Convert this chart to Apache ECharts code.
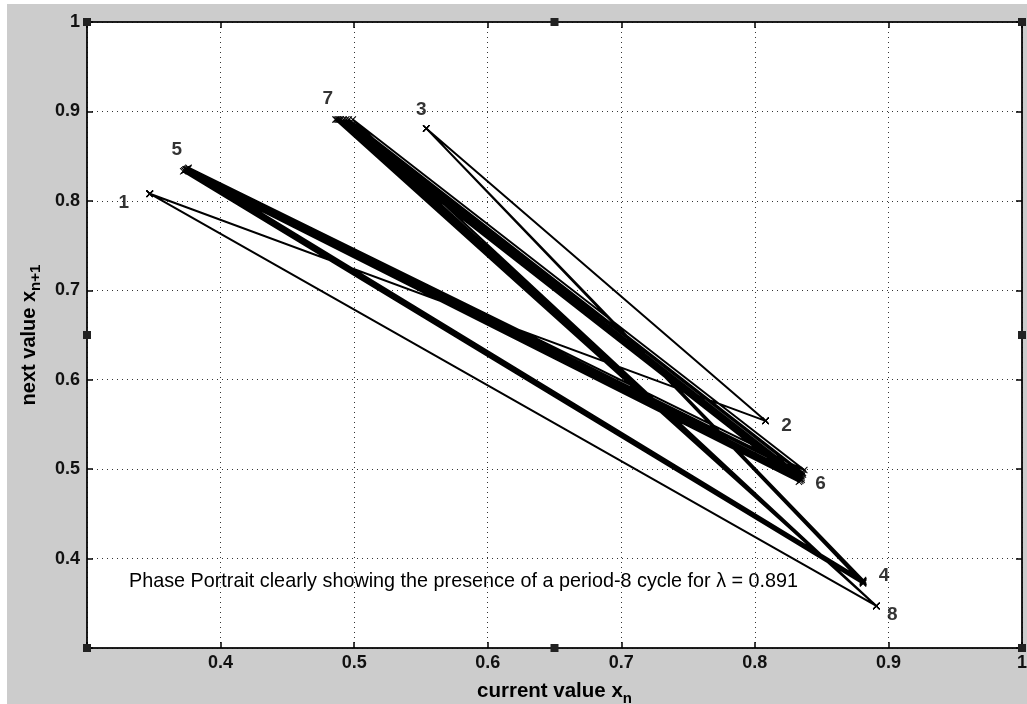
<!DOCTYPE html>
<html>
<head>
<meta charset="utf-8">
<script src="https://cdn.jsdelivr.net/npm/echarts@6/dist/echarts.min.js"></script>
<style>
html,body{margin:0;padding:0;background:#fff;}
#chart{width:1027px;height:704px;}
</style>
</head>
<body>
<div id="chart"></div>
<script>
// Trajectory points (x_n, x_{n+1}) in the order they are joined
const currentValue = [
  0.376, 0.837, 0.499, 0.891, 0.347, 0.808, 0.554, 0.881,
  0.372, 0.833, 0.486, 0.891, 0.347, 0.808, 0.554, 0.881,
  0.376, 0.836, 0.496, 0.891, 0.347, 0.808, 0.554, 0.881,
  0.373, 0.834, 0.487, 0.891, 0.347, 0.808, 0.554, 0.881,
  0.375, 0.836, 0.494, 0.891, 0.347, 0.808, 0.554, 0.881,
  0.373, 0.834, 0.489, 0.891, 0.347, 0.808, 0.554, 0.881,
  0.375, 0.835, 0.492, 0.891, 0.347, 0.808, 0.554, 0.881,
  0.374, 0.835, 0.488, 0.891, 0.347, 0.808, 0.554, 0.881,
  0.374, 0.835, 0.490, 0.891, 0.347, 0.808, 0.554, 0.881,
  0.374
];
const nextValue = [
  0.837, 0.499, 0.891, 0.347, 0.808, 0.554, 0.881, 0.372,
  0.833, 0.486, 0.891, 0.347, 0.808, 0.554, 0.881, 0.376,
  0.836, 0.496, 0.891, 0.347, 0.808, 0.554, 0.881, 0.373,
  0.834, 0.487, 0.891, 0.347, 0.808, 0.554, 0.881, 0.375,
  0.836, 0.494, 0.891, 0.347, 0.808, 0.554, 0.881, 0.373,
  0.834, 0.489, 0.891, 0.347, 0.808, 0.554, 0.881, 0.375,
  0.835, 0.492, 0.891, 0.347, 0.808, 0.554, 0.881, 0.374,
  0.835, 0.488, 0.891, 0.347, 0.808, 0.554, 0.881, 0.374,
  0.835, 0.490, 0.891, 0.347, 0.808, 0.554, 0.881, 0.374,
  0.835
];
// Period-8 cycle points and their labels
const cycleLabels = ['1', '2', '3', '4', '5', '6', '7', '8'];
const cycleX = [0.347, 0.808, 0.554, 0.881, 0.374, 0.835, 0.490, 0.891];
const cycleY = [0.808, 0.554, 0.881, 0.374, 0.835, 0.489, 0.891, 0.347];
const xTicks = [0.3, 0.4, 0.5, 0.6, 0.7, 0.8, 0.9, 1.0];
const yTicks = [0.3, 0.4, 0.5, 0.6, 0.7, 0.8, 0.9, 1.0];
const annotation = 'Phase Portrait clearly showing the presence of a period-8 cycle for \u03bb = 0.891';
const xTitle = 'current value x';
const xSub = 'n';
const yTitle = 'next value x';
const ySub = 'n+1';

const FONT = 'Arial, "Liberation Sans", Helvetica, sans-serif';
const labelOffsets = [[-26, 9], [21, 5], [-5, -19], [21, -6], [-9, -20], [19, 5], [-13, -21], [16, 9]];

const chart = echarts.init(document.getElementById('chart'), null, {renderer: 'canvas'});

const G = {left: 87, right: 5, top: 22, bottom: 56};
const W = 1027, H = 704;
const gx0 = G.left, gx1 = W - G.right, gy0 = G.top, gy1 = H - G.bottom;

function fmt(v) {
  if (Math.abs(v - xTicks[0]) < 1e-6) return '';
  return String(+v.toFixed(1));
}

const xMark = 'path://M0,1L1,0L5,4L9,0L10,1L6,5L10,9L9,10L5,6L1,10L0,9L4,5Z';

const traj = currentValue.map((x, i) => [x, nextValue[i]]);
const labelPts = cycleX.map((x, i) => ({
  value: [x, cycleY[i]],
  label: {show: true, formatter: cycleLabels[i], offset: labelOffsets[i]}
}));

function handle(cx, cy) {
  return {type: 'rect', shape: {x: cx - 4, y: cy - 4, width: 8, height: 8},
    style: {fill: '#222'}, z: 100, silent: true};
}

const axisLineStyle = {color: '#000', width: 1.5};

const option = {
  animation: false,
  backgroundColor: '#cccccc',
  grid: {left: G.left, right: G.right, top: G.top, bottom: G.bottom,
    outerBoundsMode: 'none', containLabel: false,
    show: true, backgroundColor: '#ffffff', borderColor: '#000', borderWidth: 1},
  xAxis: [{
    type: 'value', min: xTicks[0], max: xTicks[xTicks.length - 1], interval: 0.1,
    position: 'bottom',
    axisLine: {show: true, onZero: false, lineStyle: axisLineStyle},
    axisTick: {show: true, inside: true, length: 6, lineStyle: axisLineStyle},
    axisLabel: {formatter: fmt, color: '#111', fontFamily: FONT, fontWeight: 'bold', fontSize: 18, margin: 6},
    splitLine: {show: true, lineStyle: {color: '#333', type: [1, 4], width: 1}},
    name: '{t|' + xTitle + '}{s|' + xSub + '}', nameLocation: 'middle', nameGap: 25,
    nameTextStyle: {rich: {
      t: {fontFamily: FONT, fontWeight: 'bold', fontSize: 20.5, color: '#000', lineHeight: 22},
      s: {fontFamily: FONT, fontWeight: 'bold', fontSize: 15, color: '#000', padding: [14, 0, 0, 0], lineHeight: 22}
    }}
  }, {
    type: 'value', min: xTicks[0], max: xTicks[xTicks.length - 1], interval: 0.1,
    position: 'top',
    axisLine: {show: true, onZero: false, lineStyle: axisLineStyle},
    axisTick: {show: true, inside: true, length: 6, lineStyle: axisLineStyle},
    axisLabel: {show: false}, splitLine: {show: false}
  }],
  yAxis: [{
    type: 'value', min: yTicks[0], max: yTicks[yTicks.length - 1], interval: 0.1,
    position: 'left',
    axisLine: {show: true, onZero: false, lineStyle: axisLineStyle},
    axisTick: {show: true, inside: true, length: 6, lineStyle: axisLineStyle},
    axisLabel: {formatter: fmt, color: '#111', fontFamily: FONT, fontWeight: 'bold', fontSize: 18, margin: 7},
    splitLine: {show: true, lineStyle: {color: '#333', type: [1, 4], width: 1}},
    name: '{t|' + yTitle + '}{s|' + ySub + '}', nameLocation: 'middle', nameGap: 47, nameRotate: 90,
    nameTextStyle: {rich: {
      t: {fontFamily: FONT, fontWeight: 'bold', fontSize: 20, color: '#000', lineHeight: 22},
      s: {fontFamily: FONT, fontWeight: 'bold', fontSize: 15, color: '#000', padding: [14, 0, 0, 0], lineHeight: 22}
    }}
  }, {
    type: 'value', min: yTicks[0], max: yTicks[yTicks.length - 1], interval: 0.1,
    position: 'right',
    axisLine: {show: true, onZero: false, lineStyle: axisLineStyle},
    axisTick: {show: true, inside: true, length: 6, lineStyle: axisLineStyle},
    axisLabel: {show: false}, splitLine: {show: false}
  }],
  series: [{
    type: 'line', data: traj, xAxisIndex: 0, yAxisIndex: 0,
    symbol: xMark, symbolSize: 7, showAllSymbol: true,
    itemStyle: {color: '#000'},
    lineStyle: {color: '#000', width: 2},
    silent: true, z: 5
  }, {
    type: 'scatter', data: labelPts, xAxisIndex: 0, yAxisIndex: 0,
    symbolSize: 0, silent: true, z: 6,
    label: {show: true, position: 'inside', color: '#000', fontFamily: FONT, fontWeight: 'bold', fontSize: 19}
  }],
  graphic: [
    {type: 'rect', shape: {x: 0, y: 0, width: W, height: 4}, style: {fill: '#fff'}, z: -1, silent: true},
    {type: 'rect', shape: {x: 0, y: 0, width: 7, height: H}, style: {fill: '#fff'}, z: -1, silent: true},
    {type: 'text', x: 129, y: 582, style: {text: annotation, fontFamily: FONT, fontSize: 19.8, fill: '#000', verticalAlign: 'middle', textAlign: 'left'}, z: 50, silent: true},
    handle(gx0, gy0), handle((gx0 + gx1) / 2, gy0), handle(gx1, gy0),
    handle(gx0, (gy0 + gy1) / 2), handle(gx1, (gy0 + gy1) / 2),
    handle(gx0, gy1), handle((gx0 + gx1) / 2, gy1), handle(gx1, gy1)
  ]
};
chart.setOption(option);
</script>
</body>
</html>
